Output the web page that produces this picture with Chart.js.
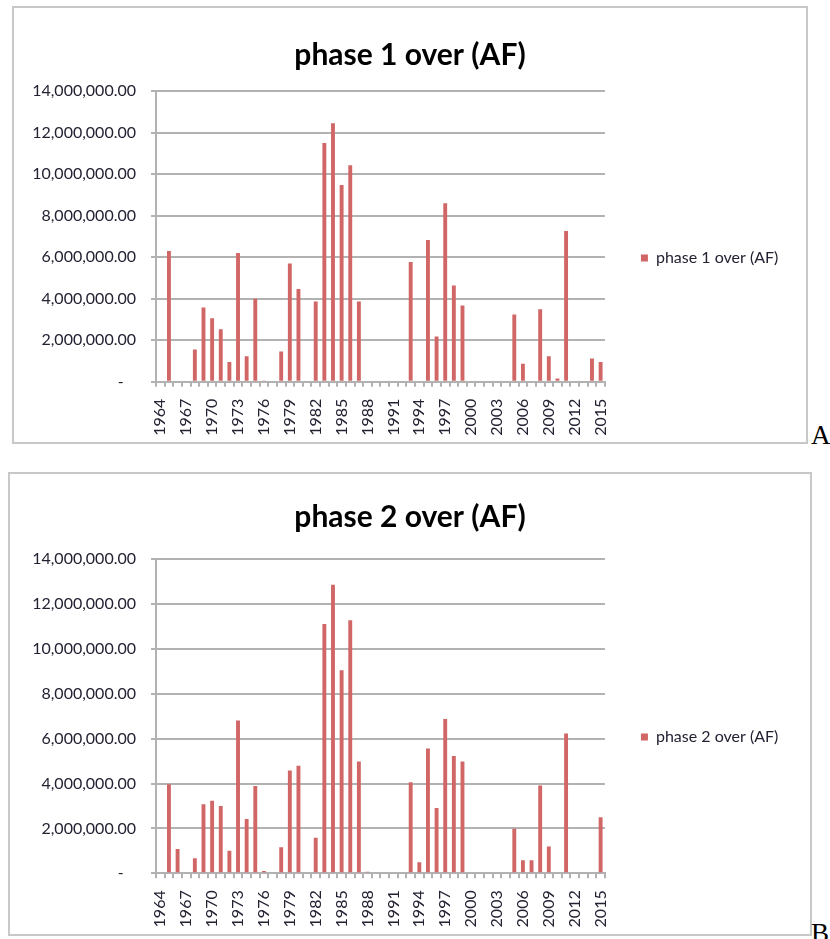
<!DOCTYPE html>
<html>
<head>
<meta charset="utf-8">
<script src="https://cdn.jsdelivr.net/npm/chart.js@4.4.0/dist/chart.umd.min.js"></script>
<style>
  body { margin: 0; background: #fff; width: 830px; height: 939px; position: relative; overflow: hidden; }
  .box { position: absolute; border: 2px solid #c8c8c8; box-sizing: border-box; background: #fff; }
  .box canvas { position: absolute; left: 0; top: 0; }
  .letter { position: absolute; font-family: "Liberation Serif", serif; font-size: 27px; line-height: 1; color: #000; }
</style>
</head>
<body>
<div class="box" style="left:12px; top:6px; width:796px; height:438px;">
  <canvas id="chartA" width="792" height="434"></canvas>
</div>
<span class="letter" style="left:811px; top:422px;">A</span>
<div class="box" style="left:8px; top:472px; width:804px; height:464px;">
  <canvas id="chartB" width="800" height="460"></canvas>
</div>
<span class="letter" style="left:811px; top:920px;">B</span>

<script>
var years = ["1964", "1965", "1966", "1967", "1968", "1969", "1970", "1971", "1972", "1973",
    "1974", "1975", "1976", "1977", "1978", "1979", "1980", "1981", "1982", "1983",
    "1984", "1985", "1986", "1987", "1988", "1989", "1990", "1991", "1992", "1993",
    "1994", "1995", "1996", "1997", "1998", "1999", "2000", "2001", "2002", "2003",
    "2004", "2005", "2006", "2007", "2008", "2009", "2010", "2011", "2012", "2013",
    "2014", "2015"];

// only every third year gets a label
var shownYears = ["1964", "1967", "1970", "1973", "1976", "1979", "1982", "1985", "1988",
    "1991", "1994", "1997", "2000", "2003", "2006", "2009", "2012", "2015"];

var phase1 = [0, 6300000, 0, 0, 1550000, 3570000, 3060000, 2530000, 950000, 6200000,
    1220000, 4000000, 30000, 0, 1460000, 5690000, 4470000, 0, 3860000, 11490000,
    12450000, 9470000, 10430000, 3860000, 0, 0, 0, 0, 0, 5770000,
    0, 6830000, 2180000, 8590000, 4630000, 3670000, 0, 0, 0, 0,
    0, 3240000, 870000, 0, 3490000, 1220000, 160000, 7260000, 0, 0,
    1120000, 950000];

var phase2 = [0, 3970000, 1080000, 0, 670000, 3080000, 3240000, 3000000, 1010000, 6810000,
    2420000, 3890000, 100000, 0, 1160000, 4580000, 4800000, 0, 1590000, 11110000,
    12870000, 9050000, 11280000, 4980000, 70000, 0, 0, 0, 0, 4060000,
    490000, 5560000, 2910000, 6880000, 5230000, 4980000, 0, 0, 0, 0,
    0, 1990000, 580000, 580000, 3910000, 1190000, 0, 6230000, 0, 0,
    0, 2500000];

var yMax = 14000000;
var yStep = 2000000;

var barColor = "#d16666";
var gridColor = "#b2b2b2";
var textColor = "#222233";
var fontName = "Lato, 'Open Sans', sans-serif";

function formatValue(value) {
    if (value == 0) {
        return "-   ";
    }
    return value.toLocaleString("en-US", { minimumFractionDigits: 2, maximumFractionDigits: 2 });
}

function plotChart(id, name, values, cfg) {
    var ctx = document.getElementById(id).getContext("2d");

    new Chart(ctx, {
        type: "bar",
        data: {
            labels: years,
            datasets: [{
                label: name,
                data: values,
                backgroundColor: barColor,
                borderWidth: 0,
                barPercentage: 0.45,
                categoryPercentage: 1
            }]
        },
        options: {
            responsive: false,
            animation: false,
            layout: { padding: { left: cfg.side, right: cfg.side, top: 0, bottom: 0 } },
            scales: {
                y: {
                    min: 0,
                    max: yMax,
                    afterFit: function (scale) { scale.width = cfg.yWidth; },
                    ticks: {
                        stepSize: yStep,
                        color: textColor,
                        padding: 15,
                        font: { family: fontName, size: 16 },
                        callback: function (value) { return formatValue(value); }
                    },
                    grid: { color: gridColor, lineWidth: 2, tickLength: 5 },
                    border: { color: gridColor, width: 2 }
                },
                x: {
                    afterFit: function (scale) { scale.height = cfg.xHeight; },
                    ticks: {
                        autoSkip: false,
                        minRotation: 90,
                        maxRotation: 90,
                        padding: 12,
                        color: textColor,
                        font: { family: fontName, size: 16 },
                        callback: function (value, index) {
                            var year = years[index];
                            return shownYears.indexOf(year) >= 0 ? year : "";
                        }
                    },
                    grid: { drawOnChartArea: false, color: gridColor, lineWidth: 2, tickLength: 5 },
                    border: { color: gridColor, width: 2 }
                }
            },
            plugins: {
                title: {
                    display: true,
                    text: name,
                    color: "#000",
                    font: { family: fontName, size: 30, weight: "bold", lineHeight: 1.2 },
                    padding: { top: cfg.titleTop, bottom: cfg.titleBottom }
                },
                legend: {
                    position: "right",
                    fullSize: false,
                    // empty legend title just pushes the single entry down a bit
                    title: {
                        display: true,
                        text: "",
                        font: { family: fontName, size: 12, lineHeight: 1.2 },
                        padding: { top: 0, bottom: cfg.legendShift }
                    },
                    labels: {
                        boxWidth: 7,
                        boxHeight: 7,
                        padding: 36,
                        color: textColor,
                        font: { family: fontName, size: 16 }
                    }
                },
                tooltip: { enabled: false }
            }
        }
    });
}

plotChart("chartA", "phase 1 over (AF)", phase1,
    { side: 17.7, yWidth: 124.3, xHeight: 60.3, titleTop: 29, titleBottom: 18, legendShift: 28.9 });
plotChart("chartB", "phase 2 over (AF)", phase2,
    { side: 21.7, yWidth: 124.3, xHeight: 60.7, titleTop: 25, titleBottom: 24.3, legendShift: 27 });
</script>
</body>
</html>
